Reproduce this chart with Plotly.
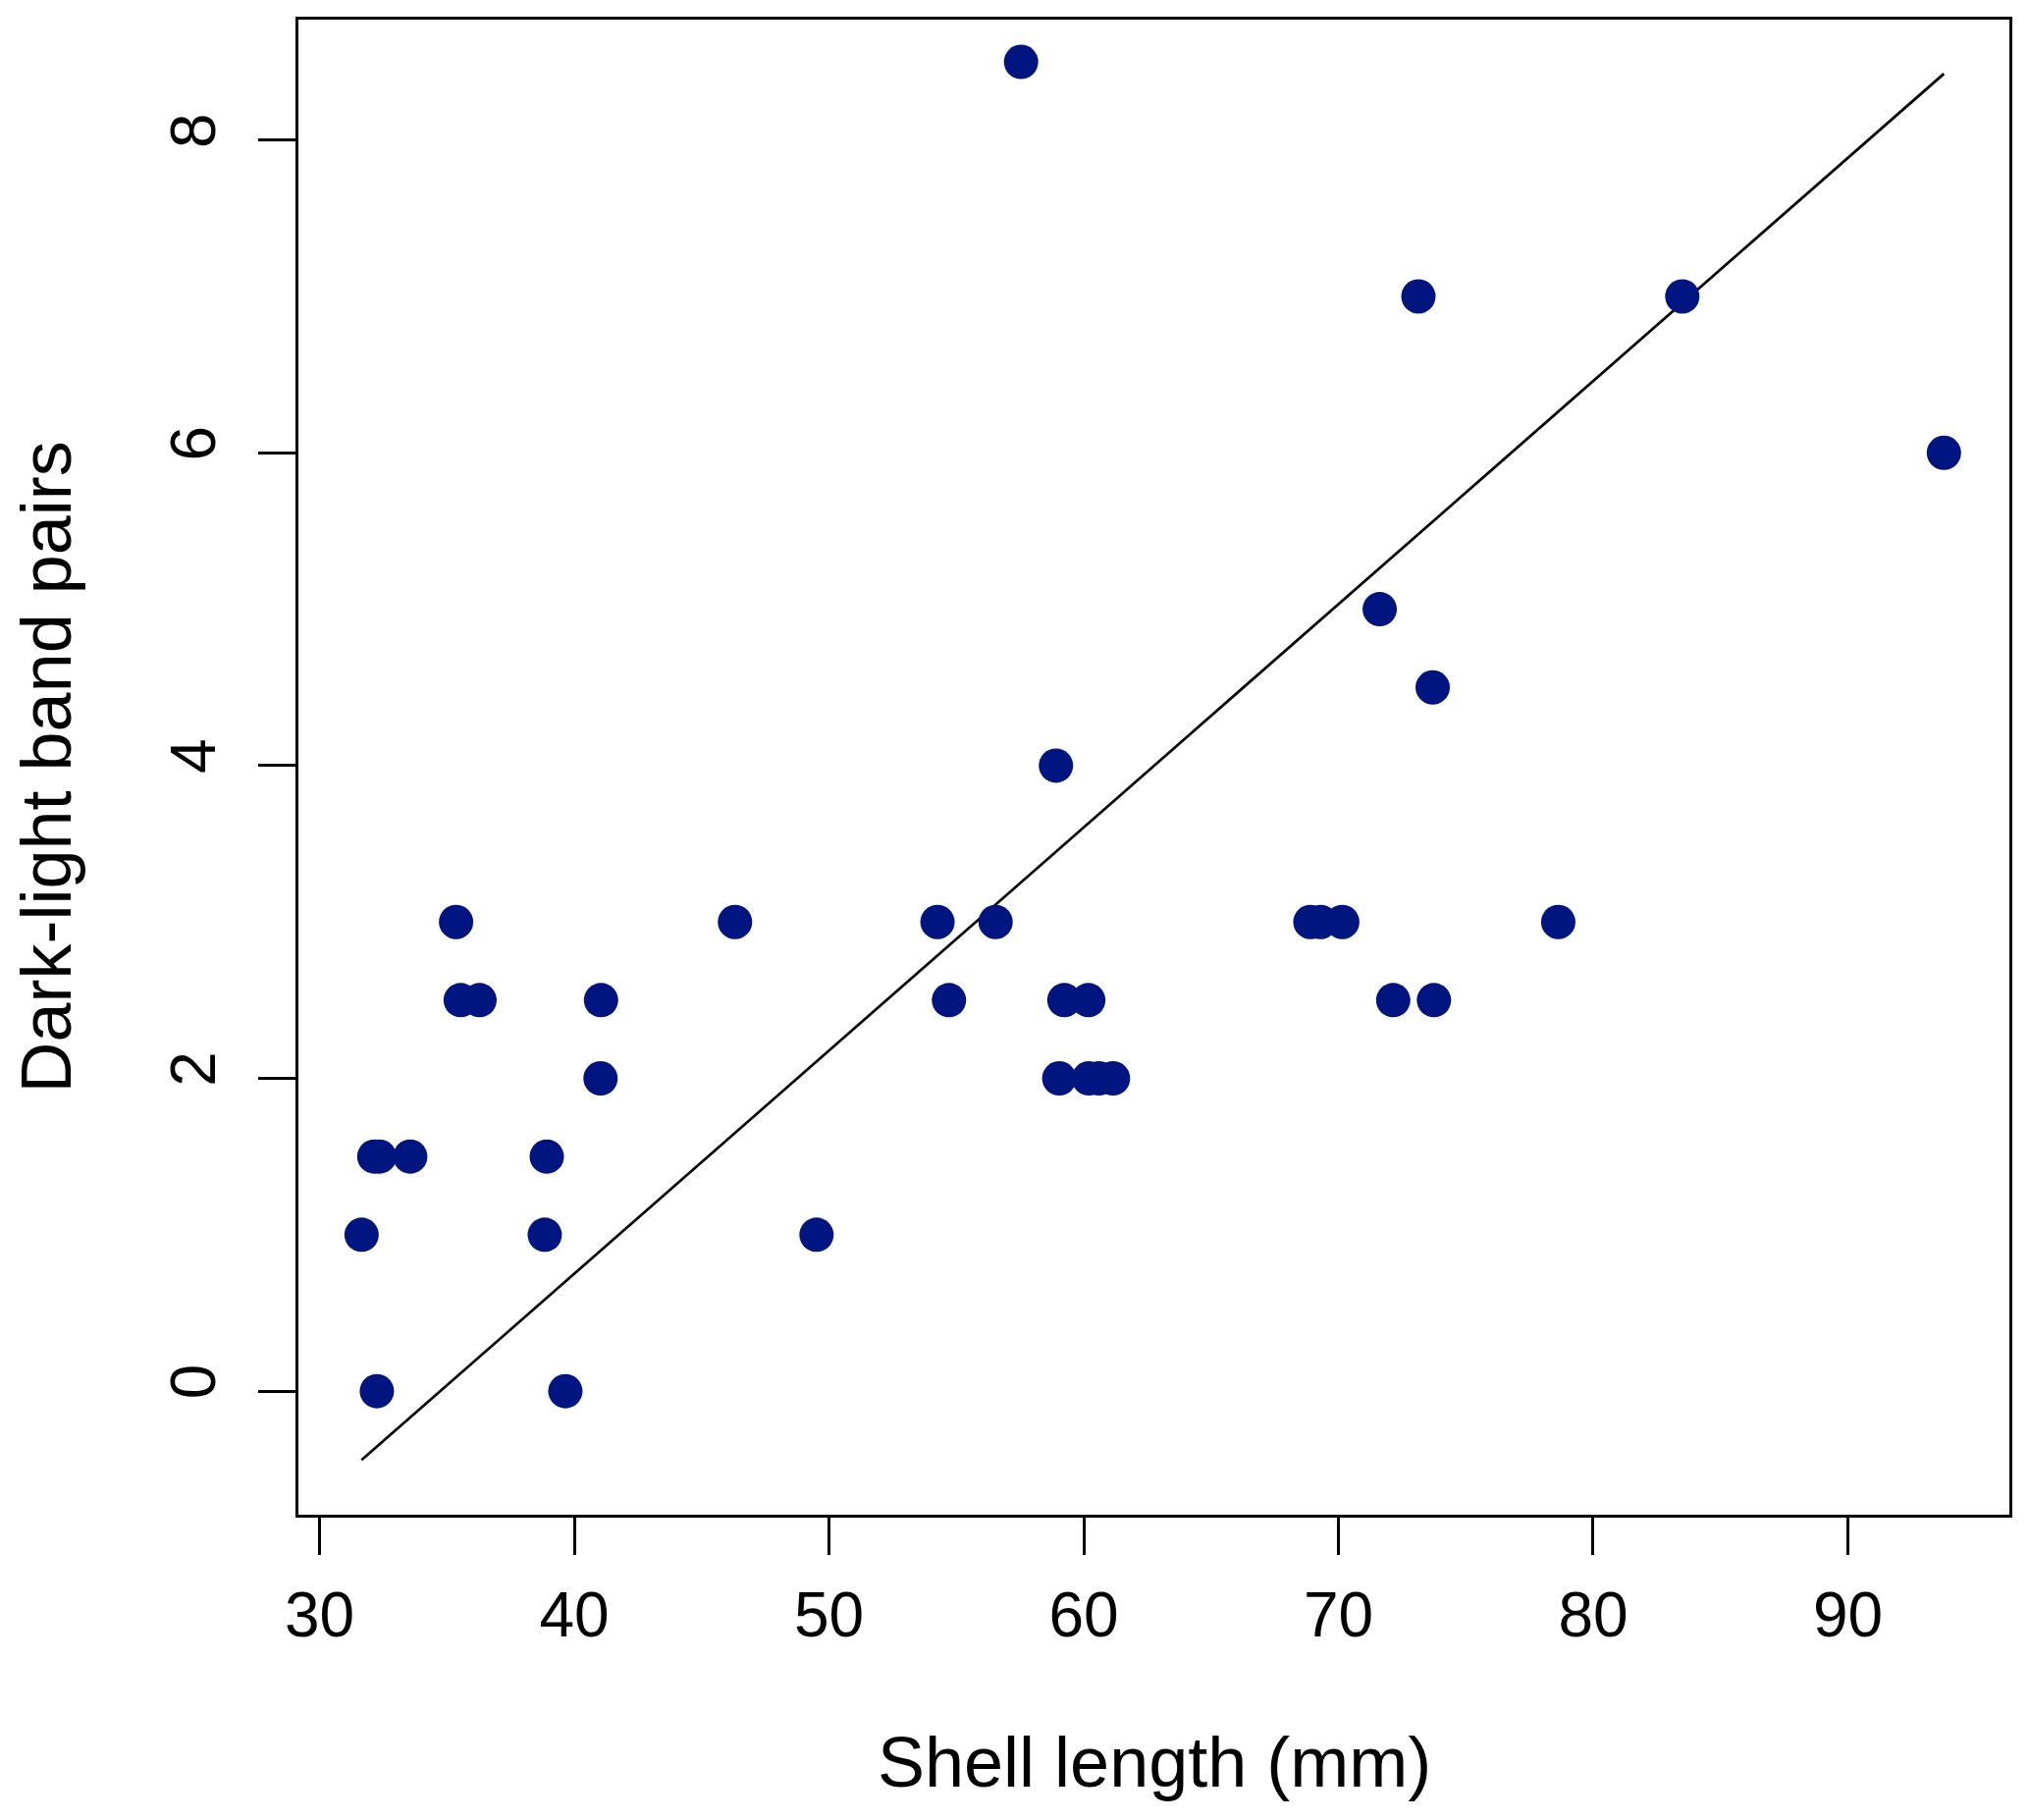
import numpy as np
import plotly.graph_objects as go

# ---- data ----
shell_length_mm = [31.65, 32.15, 32.35, 33.56, 32.25, 35.36, 35.54, 36.28,
                   38.92, 38.84, 39.65, 41.05, 41.03, 46.31, 49.51,
                   54.26, 54.71, 56.54, 57.54, 58.91,
                   59.04, 60.2, 60.6, 61.15, 59.24, 60.18,
                   68.9, 69.3, 70.15, 71.62, 72.15, 73.14, 73.7, 73.75,
                   78.63, 83.5, 93.77]
band_pairs = [1, 1.5, 1.5, 1.5, 0, 3, 2.5, 2.5,
              1.5, 1, 0, 2.5, 2, 3, 1,
              3, 2.5, 3, 8.5, 4,
              2, 2, 2, 2, 2.5, 2.5,
              3, 3, 3, 5, 2.5, 7, 4.5, 2.5,
              3, 7, 6]

fit_intercept = -4.957
fit_slope = 0.1427

x_ticks = [30, 40, 50, 60, 70, 80, 90]
y_ticks = [0, 2, 4, 6, 8]
x_range = [29.17, 96.34]
y_range = [-0.79, 8.77]

x_title = "Shell length (mm)"
y_title = "Dark-light band pairs"

# ---- figure ----
# the page body adds an 8px offset, compensated here
W, H = 2051, 1838
ML, MR, MT, MB = 296, 12, 12, 303
FONT = "Liberation Sans, Arial, Helvetica, sans-serif"

fit_x = np.array([min(shell_length_mm), max(shell_length_mm)])
fit_y = fit_intercept + fit_slope * fit_x

fig = go.Figure()
fig.add_trace(go.Scatter(
    x=fit_x, y=fit_y, mode="lines",
    line=dict(color="black", width=2.7),
    showlegend=False, hoverinfo="skip"))
fig.add_trace(go.Scatter(
    x=shell_length_mm, y=band_pairs, mode="markers",
    marker=dict(color="#00157F", size=35, line=dict(width=0)),
    showlegend=False))

axis_common = dict(
    showgrid=False, zeroline=False,
    showline=True, linecolor="black", linewidth=2.5, mirror=True,
    ticks="outside", ticklen=38, tickwidth=2.5, tickcolor="black",
    tickfont=dict(family=FONT, size=64, color="black"),
)

fig.update_xaxes(range=x_range, tickvals=x_ticks,
                 ticktext=[str(v) for v in x_ticks],
                 ticklabelstandoff=6, **axis_common)
fig.update_yaxes(range=y_range, tickvals=y_ticks,
                 ticktext=[str(v) for v in y_ticks],
                 tickangle=-90, ticklabelstandoff=19, **axis_common)

fig.add_annotation(text=x_title, xref="paper", yref="paper",
                   x=0.5, y=0, xanchor="center", yanchor="middle",
                   yshift=-252, showarrow=False,
                   font=dict(family=FONT, size=72, color="black"))
fig.add_annotation(text=y_title, xref="paper", yref="paper",
                   x=0, y=0.5, xanchor="center", yanchor="middle",
                   xshift=-258, textangle=-90, showarrow=False,
                   font=dict(family=FONT, size=72, color="black"))

fig.update_layout(
    width=W, height=H,
    margin=dict(l=ML, r=MR, t=MT, b=MB, autoexpand=False),
    paper_bgcolor="white", plot_bgcolor="white",
)

fig.write_html("out.html")
